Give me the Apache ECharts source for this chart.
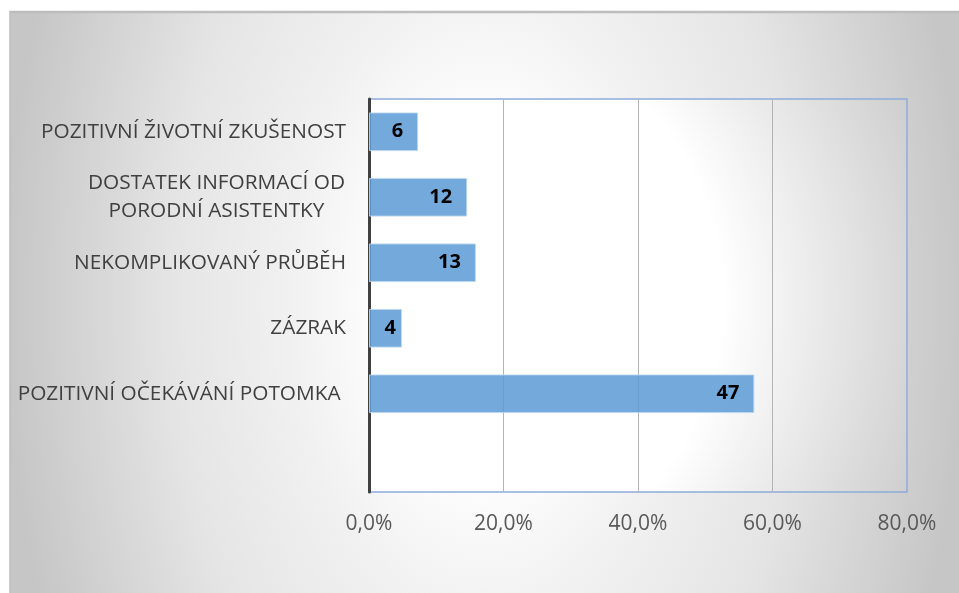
<!DOCTYPE html>
<html>
<head>
<meta charset="utf-8">
<script src="https://cdn.jsdelivr.net/npm/echarts@6/dist/echarts.min.js"></script>
<style>
html,body{margin:0;padding:0;background:#fff;}
#chart{width:959px;height:593px;}
</style>
</head>
<body>
<div id="chart"></div>
<script>
// Categories, top to bottom (last slot is empty in the original chart)
var categories = [
  'POZITIVNÍ ŽIVOTNÍ ZKUŠENOST',
  'DOSTATEK INFORMACÍ OD\nPORODNÍ ASISTENTKY',
  'NEKOMPLIKOVANÝ PRŮBĚH',
  'ZÁZRAK',
  'POZITIVNÍ OČEKÁVÁNÍ POTOMKA ',
  ''
];
// Counts shown as data labels
var counts = [6, 12, 13, 4, 47, null];
// Bar lengths in percent
var percents = [7.3, 14.6, 15.9, 4.9, 57.3, null];
// X axis ticks
var xTicks = [0, 20, 40, 60, 80];

var CAT_FONT = 20.8;
var chart = echarts.init(document.getElementById('chart'), null, {renderer: 'canvas'});

// width of the longest line of the two-line label (to center its lines)
var mctx = document.createElement('canvas').getContext('2d');
mctx.font = CAT_FONT + 'px "Open Sans"';
var multiW = 0;
categories.forEach(function (c) {
  if (c.indexOf('\n') >= 0) {
    c.split('\n').forEach(function (l) { multiW = Math.max(multiW, mctx.measureText(l).width); });
  }
});
multiW = Math.ceil(multiW) + 1;

var seriesData = percents.map(function (p, i) {
  var item = {value: p, count: counts[i]};
  // very short bars: label sits closer to the bar end (as in the original)
  if (p != null && p < 6) { item.label = {distance: 6}; }
  return item;
});

var SY = 1.667; // vertical stretch of the background's radial gradient

var option = {
  backgroundColor: '#ffffff',
  animation: false,
  graphic: [{
    type: 'rect',
    z: -10,
    silent: true,
    x: 0, y: 0,
    scaleX: 1, scaleY: SY,
    originX: 0, originY: 0,
    shape: {x: 10, y: 12 / SY, width: 960, height: 590 / SY},
    style: {
      fill: new echarts.graphic.RadialGradient(485, 300 / SY, 480, [
        {offset: 0, color: '#ffffff'},
        {offset: 0.2, color: '#ffffff'},
        {offset: 0.4, color: '#f1f1f1'},
        {offset: 0.65, color: '#e5e5e5'},
        {offset: 0.83, color: '#d5d5d5'},
        {offset: 1, color: '#c6c6c6'}
      ], true),
      stroke: '#bdbdbd',
      lineWidth: 1.5,
      strokeNoScale: true
    }
  }],
  grid: {
    left: 369,
    right: 959 - 907,
    top: 99,
    bottom: 593 - 492,
    show: true,
    backgroundColor: new echarts.graphic.RadialGradient(0.132, 0.51, 1.3, [
      {offset: 0, color: '#ffffff'},
      {offset: 0.55, color: '#ffffff'},
      {offset: 1, color: '#cdcdcd'}
    ]),
    borderColor: '#8eaadb',
    borderWidth: 1.5,
    containLabel: false
  },
  xAxis: {
    type: 'value',
    min: xTicks[0],
    max: xTicks[xTicks.length - 1],
    interval: 20,
    axisLine: {show: false},
    axisTick: {show: false},
    splitLine: {show: true, lineStyle: {color: '#b4b4b4', width: 1}},
    axisLabel: {
      color: '#595959',
      fontFamily: 'Open Sans',
      fontSize: 21,
      margin: 22,
      formatter: function (v) { return v.toFixed(1).replace('.', ',') + '%'; }
    }
  },
  yAxis: {
    type: 'category',
    inverse: true,
    data: categories,
    axisLine: {show: true, onZero: false, lineStyle: {color: '#404040', width: 3}},
    axisTick: {show: false},
    splitLine: {show: false},
    axisLabel: {
      color: '#404040',
      fontFamily: 'Open Sans',
      fontSize: CAT_FONT,
      margin: 23,
      lineHeight: 28,
      formatter: function (v) {
        if (v.indexOf('\n') >= 0) {
          return v.split('\n').map(function (l) { return '{c|' + l + '}'; }).join('\n');
        }
        return v;
      },
      rich: {
        c: {
          width: multiW,
          align: 'center',
          color: '#404040',
          fontFamily: 'Open Sans',
          fontSize: CAT_FONT,
          lineHeight: 28
        }
      }
    }
  },
  series: [{
    type: 'bar',
    data: seriesData,
    barCategoryGap: '41%',
    itemStyle: {
      color: 'rgba(91,155,213,0.85)',
      borderColor: 'rgba(189,215,238,0.9)',
      borderWidth: 1
    },
    label: {
      show: true,
      position: 'insideRight',
      distance: 15,
      color: '#000000',
      fontFamily: 'Open Sans',
      fontWeight: 'bold',
      fontSize: 20,
      formatter: function (p) { return p.data.count == null ? '' : String(p.data.count); }
    }
  }]
};

chart.setOption(option);
</script>
</body>
</html>
